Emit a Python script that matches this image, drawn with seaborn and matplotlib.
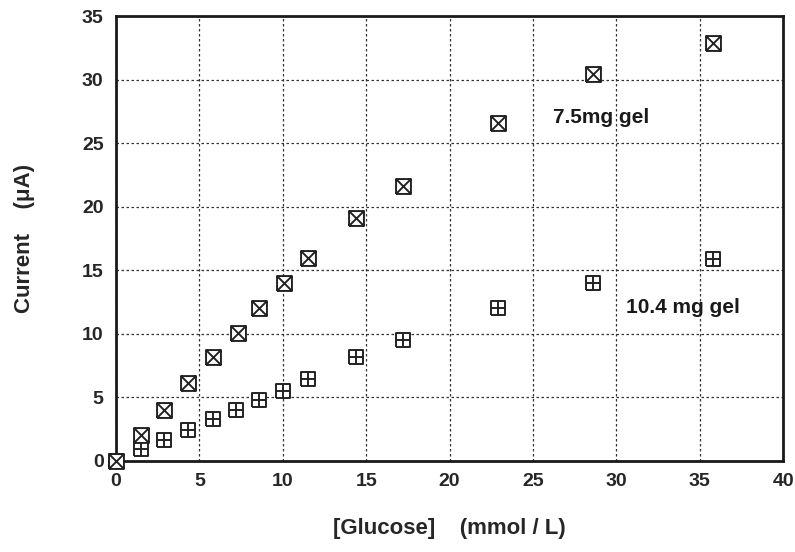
import numpy as np
import pandas as pd
import matplotlib
matplotlib.use('Agg')
import matplotlib.pyplot as plt
from matplotlib.path import Path
from matplotlib.ticker import MultipleLocator
import seaborn as sns

# glucose (mmol/L) and current (uA)
gluc_75 = [0, 1.5, 2.9, 4.3, 5.8, 7.3, 8.6, 10.1, 11.5, 14.4, 17.2, 22.9, 28.6, 35.8]
cur_75 = [0, 2.0, 4.0, 6.1, 8.2, 10.1, 12.0, 14.0, 16.0, 19.1, 21.6, 26.6, 30.4, 32.9]
gluc_104 = [0, 1.5, 2.9, 4.3, 5.8, 7.2, 8.6, 10.0, 11.5, 14.4, 17.2, 22.9, 28.6, 35.8]
cur_104 = [0, 0.9, 1.65, 2.4, 3.3, 4.0, 4.8, 5.5, 6.45, 8.2, 9.5, 12.0, 14.0, 15.9]

df75 = pd.DataFrame({'glucose': gluc_75, 'current': cur_75})
df104 = pd.DataFrame({'glucose': gluc_104, 'current': cur_104})

sns.set_style('white')
plt.rcParams['font.family'] = ['Liberation Sans', 'DejaVu Sans']
plt.rcParams['font.weight'] = 'bold'

M, L = Path.MOVETO, Path.LINETO
sq = [(-1, -1), (1, -1), (1, 1), (-1, 1), (-1, -1)]
box_x = Path(sq + [(-1, -1), (1, 1), (-1, 1), (1, -1)],
             [M, L, L, L, L, M, L, M, L])
box_plus = Path(sq + [(0, -1), (0, 1), (-1, 0), (1, 0)],
                [M, L, L, L, L, M, L, M, L])

fig = plt.figure(figsize=(7.95, 5.52), dpi=100)
ax = fig.add_axes([0.146, 0.165, 0.839, 0.806])

sns.scatterplot(data=df104, x='glucose', y='current', marker=box_plus, s=115,
                facecolor='white', edgecolor='#222222', linewidth=1.4, ax=ax,
                zorder=3, clip_on=False)
sns.scatterplot(data=df75, x='glucose', y='current', marker=box_x, s=115,
                facecolor='white', edgecolor='#222222', linewidth=1.4, ax=ax,
                zorder=4, clip_on=False)

ax.set_xlim(0, 40)
ax.set_ylim(0, 35)
ax.xaxis.set_major_locator(MultipleLocator(5))
ax.yaxis.set_major_locator(MultipleLocator(5))
ax.xaxis.set_minor_locator(MultipleLocator(1))
ax.yaxis.set_minor_locator(MultipleLocator(1))
ax.tick_params(which='both', direction='in', color='#222222', top=False, right=False)
ax.tick_params(which='major', length=7, width=1.3, labelsize=14, pad=9)
ax.tick_params(which='minor', length=4, width=1.0)
for t in ax.get_xticklabels() + ax.get_yticklabels():
    t.set_fontweight('bold')
ax.grid(True, which='major', linestyle=(0, (2, 2)), color='#333333', linewidth=0.9)
for sp in ax.spines.values():
    sp.set_linewidth(2)
    sp.set_color('#1a1a1a')

ax.set_xlabel('[Glucose]    (mmol / L)', fontsize=16, fontweight='bold', labelpad=20)
ax.set_ylabel('Current    (\u03bcA)', fontsize=16, fontweight='bold', labelpad=34)

ax.text(26.2, 27.0, '7.5mg gel', fontsize=15, fontweight='bold', va='center', color='#1a1a1a')
ax.text(30.6, 12.1, '10.4 mg gel', fontsize=15, fontweight='bold', va='center', color='#1a1a1a')

fig.savefig('out.png', dpi=100)
